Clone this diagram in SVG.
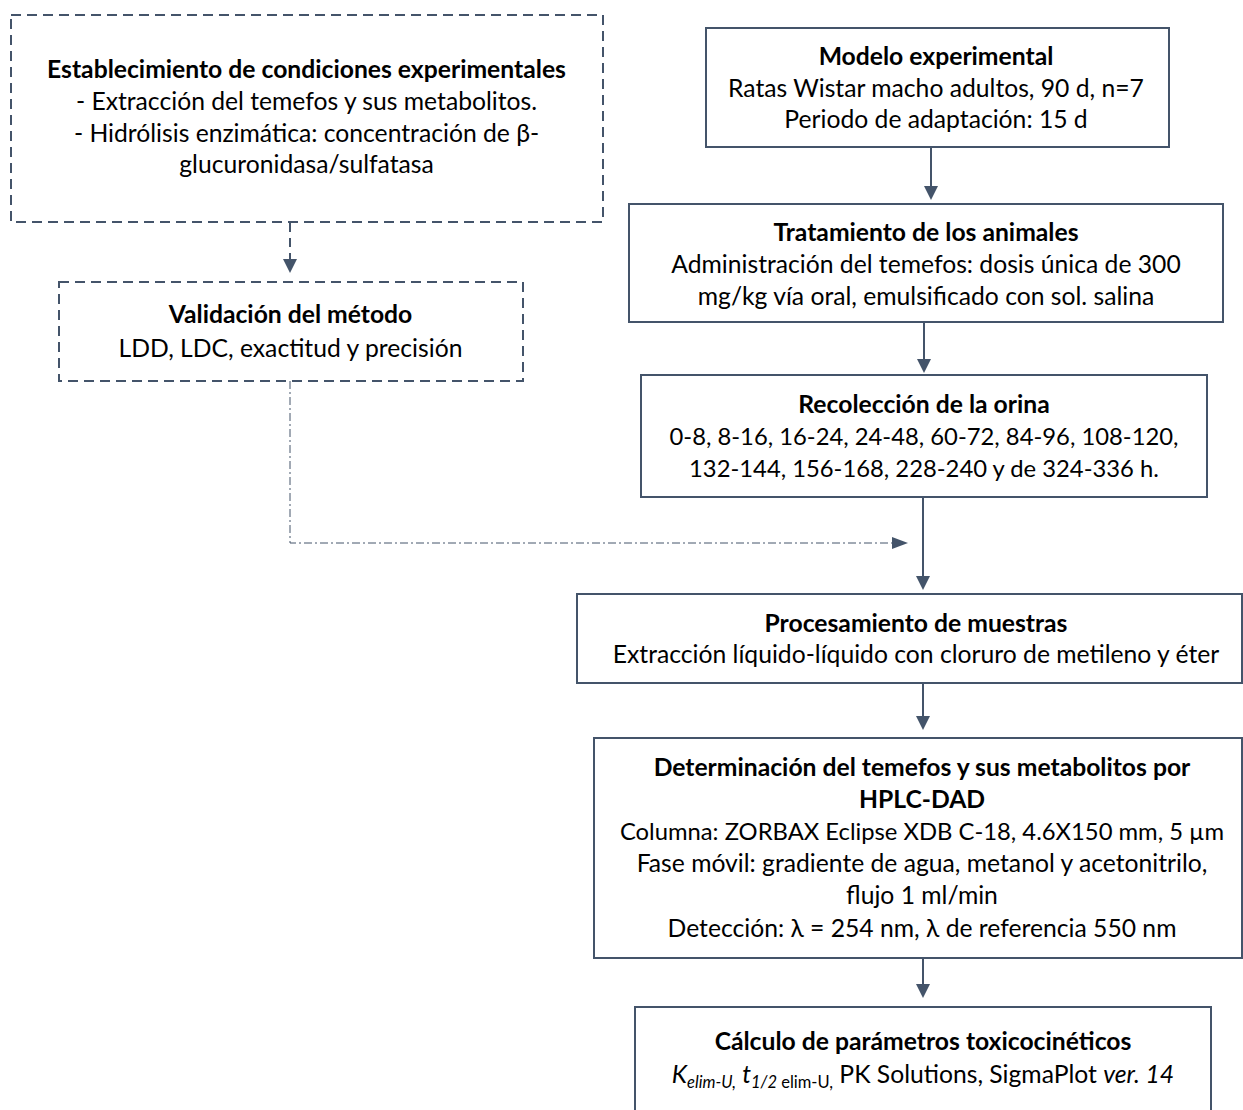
<svg xmlns="http://www.w3.org/2000/svg" width="1243" height="1110" viewBox="0 0 1243 1110">
<defs>
<style>
.box{fill:#fff;stroke:#44546A;stroke-width:2}
.dbox{fill:#fff;stroke:#44546A;stroke-width:2;stroke-dasharray:10 6}
text{font-family:Lato,"Open Sans",sans-serif;font-size:24.7px;fill:#000;text-anchor:middle}
.b{font-weight:bold}
.sm{font-size:23.8px}
.sub{font-size:16.5px}
.ln{fill:none;stroke:#44546A;stroke-width:2}
.dl{fill:none;stroke:#44546A;stroke-width:2;stroke-dasharray:9 6}
.dd{fill:none;stroke:#44546A;stroke-width:1;stroke-dasharray:8 3 2 3}
</style>
<marker id="ah" viewBox="0 0 14 14" refX="10" refY="7" markerWidth="14" markerHeight="14" markerUnits="userSpaceOnUse" orient="auto">
<path d="M0,0 L14,7 L0,14 z" fill="#44546A"/>
</marker>
<marker id="ah2" viewBox="0 0 16 12" refX="12" refY="6" markerWidth="16" markerHeight="12" markerUnits="userSpaceOnUse" orient="auto">
<path d="M0,0 L16,6 L0,12 z" fill="#44546A"/>
</marker>
</defs>

<g id="connectors">
<line class="dl" x1="290" y1="223" x2="290" y2="269" marker-end="url(#ah)"/>
<polyline class="dd" points="290,381 290,543 904,543" marker-end="url(#ah2)"/>
<line class="ln" x1="931" y1="147" x2="931" y2="196" marker-end="url(#ah)"/>
<line class="ln" x1="924" y1="322" x2="924" y2="369" marker-end="url(#ah)"/>
<line class="ln" x1="923" y1="497" x2="923" y2="586" marker-end="url(#ah)"/>
<line class="ln" x1="923" y1="684" x2="923" y2="726" marker-end="url(#ah)"/>
<line class="ln" x1="923" y1="958" x2="923" y2="994" marker-end="url(#ah)"/>
</g>

<g id="n_establecimiento">
<rect class="dbox" x="11" y="15" width="592" height="207"/>
<text x="306.5" y="78" class="b">Establecimiento de condiciones experimentales</text>
<text x="306.5" y="110">- Extracción del temefos y sus metabolitos.</text>
<text x="306.5" y="142">- Hidrólisis enzimática: concentración de β-</text>
<text x="306.5" y="173">glucuronidasa/sulfatasa</text>
</g>

<g id="n_validacion">
<rect class="dbox" x="59" y="282" width="464" height="99"/>
<text x="290.5" y="323" class="b">Validación del método</text>
<text x="290.5" y="357">LDD, LDC, exactitud y precisión</text>
</g>

<g id="n_modelo">
<rect class="box" x="706" y="28" width="463" height="119"/>
<text x="936" y="65" class="b">Modelo experimental</text>
<text x="936" y="97">Ratas Wistar macho adultos, 90 d, n=7</text>
<text x="936" y="128">Periodo de adaptación: 15 d</text>
</g>

<g id="n_tratamiento">
<rect class="box" x="629" y="204" width="594" height="118"/>
<text x="926" y="241" class="b">Tratamiento de los animales</text>
<text x="926" y="273">Administración del temefos: dosis única de 300</text>
<text x="926" y="305">mg/kg vía oral, emulsificado con sol. salina</text>
</g>

<g id="n_recoleccion">
<rect class="box" x="641" y="375" width="566" height="122"/>
<text x="924" y="413" class="b">Recolección de la orina</text>
<text x="924" y="445" class="sm">0-8, 8-16, 16-24, 24-48, 60-72, 84-96, 108-120,</text>
<text x="924" y="477" class="sm">132-144, 156-168, 228-240 y de 324-336 h.</text>
</g>

<g id="n_procesamiento">
<rect class="box" x="577" y="594" width="665" height="89"/>
<text x="916" y="632" class="b">Procesamiento de muestras</text>
<text x="916" y="663">Extracción líquido-líquido con cloruro de metileno y éter</text>
</g>

<g id="n_hplc">
<rect class="box" x="594" y="738" width="648" height="220"/>
<text x="922" y="776" class="b">Determinación del temefos y sus metabolitos por</text>
<text x="922" y="808" class="b">HPLC-DAD</text>
<text x="922" y="840" class="sm">Columna: ZORBAX Eclipse XDB C-18, 4.6X150 mm, 5 µm</text>
<text x="922" y="872">Fase móvil: gradiente de agua, metanol y acetonitrilo,</text>
<text x="922" y="904">flujo 1 ml/min</text>
<text x="922" y="937">Detección: λ = 254 nm, λ de referencia 550 nm</text>
</g>

<g id="n_calculo">
<rect class="box" x="635" y="1007" width="576" height="120"/>
<text x="923" y="1050" class="b">Cálculo de parámetros toxicocinéticos</text>
<text x="923" y="1083"><tspan font-style="italic">K</tspan><tspan class="sub" font-style="italic" dy="5">elim-U,</tspan><tspan dy="-5"> </tspan><tspan font-style="italic">t</tspan><tspan class="sub" dy="5"><tspan font-style="italic">1/2</tspan> elim-U,</tspan><tspan dy="-5"> PK Solutions, SigmaPlot </tspan><tspan font-style="italic">ver. 14</tspan></text>
</g>
</svg>
